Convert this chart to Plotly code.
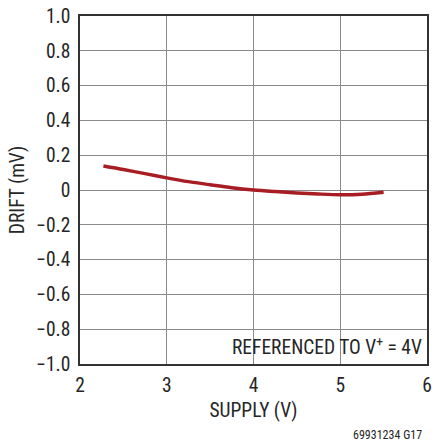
import plotly.graph_objects as go

# Supply voltage (V) and offset drift (mV), referenced to V+ = 4V
supply_v = [2.27, 2.5, 2.75, 3.0, 3.25, 3.5, 3.75, 4.0, 4.25, 4.5, 4.75, 5.0, 5.25, 5.5]
drift_mv = [0.138, 0.118, 0.094, 0.070, 0.048, 0.030, 0.013, 0.0, -0.009, -0.017, -0.023, -0.027, -0.024, -0.013]

x_ticks = [2, 3, 4, 5, 6]
y_ticks = [1.0, 0.8, 0.6, 0.4, 0.2, 0.0, -0.2, -0.4, -0.6, -0.8, -1.0]
y_tick_labels = ["1.0", "0.8", "0.6", "0.4", "0.2", "0", "\u22120.2", "\u22120.4",
                 "\u22120.6", "\u22120.8", "\u22121.0"]

FONT = "Liberation Sans Narrow, Roboto Condensed, Arial Narrow, Roboto, sans-serif"
TEXT = "#262626"

fig = go.Figure()
fig.add_trace(go.Scatter(
    x=supply_v, y=drift_mv, mode="lines",
    line=dict(color="#a81c24", width=3.4, shape="spline", smoothing=0.8),
    showlegend=False, hoverinfo="skip",
))

axis_common = dict(
    showgrid=True, gridcolor="#8a8a8a", gridwidth=1,
    showline=True, linecolor="#333333", linewidth=1.6, mirror=True,
    zeroline=False, ticks="",
    tickfont=dict(family=FONT, size=19.5, color=TEXT),
)

fig.update_xaxes(
    range=[2, 6], tickvals=x_ticks, ticktext=[str(v) for v in x_ticks],
    ticklabelstandoff=3,
    title=dict(text="SUPPLY (V)", font=dict(family=FONT, size=19.5, color=TEXT), standoff=7),
    **axis_common,
)
fig.update_yaxes(
    range=[-1, 1], tickvals=y_ticks, ticktext=y_tick_labels,
    ticklabelstandoff=4,
    title=dict(text="DRIFT (mV)", font=dict(family=FONT, size=19.5, color=TEXT), standoff=6),
    **axis_common,
)

fig.add_annotation(
    x=1, y=0, xref="paper", yref="paper", xanchor="right", yanchor="bottom",
    xshift=-3, yshift=3, showarrow=False,
    text="REFERENCED TO V<sup>+</sup> = 4V",
    font=dict(family=FONT, size=19.5, color=TEXT),
)
fig.add_annotation(
    x=1, y=0, xref="paper", yref="paper", xanchor="right", yanchor="top",
    yshift=-62, xshift=-3, showarrow=False,
    text="69931234 G17",
    font=dict(family=FONT, size=12, color=TEXT),
)

fig.update_layout(
    width=437, height=443,
    margin=dict(l=80, r=5, t=13, b=79),
    paper_bgcolor="white", plot_bgcolor="white",
)

fig.write_html("out.html")
